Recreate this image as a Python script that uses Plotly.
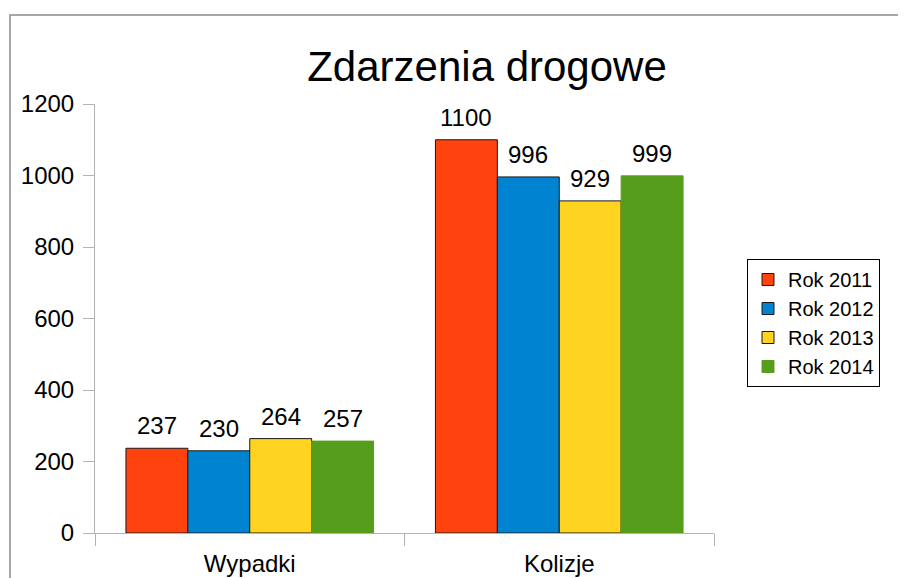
"""Grouped bar chart: road incidents per year (Zdarzenia drogowe)."""

import plotly.graph_objects as go

# Data.
categories = ["Wypadki", "Kolizje"]
years = ["Rok 2011", "Rok 2012", "Rok 2013", "Rok 2014"]
rok_2011 = [237, 1100]
rok_2012 = [230, 996]
rok_2013 = [264, 929]
rok_2014 = [257, 999]
y_ticks = [0, 200, 400, 600, 800, 1000, 1200]

# LibreOffice-style default palette; green has no dark outline.
COLORS = ["#ff420e", "#0084d1", "#ffd320", "#579d1c"]
OUTLINES = ["#1a1a1a", "#1a1a1a", "#1a1a1a", "#579d1c"]

# The page body has an 8px margin, so the figure starts at (8, 8).
# The figure is a little taller than the window; the frame runs off the
# bottom and right edges as in the picture.
OFF = 8
W, H = 906 - OFF, 600 - OFF
L, T = 95 - OFF, 104 - OFF
R, B = W - (714 - OFF), H - (533 - OFF)
BARGAP = 0.2
FONT = "Liberation Sans, Arial, sans-serif"

series = [rok_2011, rok_2012, rok_2013, rok_2014]
plot_w = W - L - R
plot_h = H - T - B


def px_x(x):
    """Reference pixel column -> paper x."""
    return (x - OFF - L) / plot_w


def px_y(y):
    """Reference pixel row -> paper y."""
    return (H - B - (y - OFF)) / plot_h


fig = go.Figure()
for name, vals, col, edge in zip(years, series, COLORS, OUTLINES):
    fig.add_trace(
        go.Bar(
            x=categories,
            y=vals,
            name=name,
            marker=dict(color=col, line=dict(color=edge, width=1)),
            hovertemplate="%{x}: %{y}<extra>" + name + "</extra>",
        )
    )

# Value labels above each bar, shifted sideways to sit over its bar.
bar_px = plot_w / len(categories) * (1 - BARGAP) / len(series)
annotations = []
for i, vals in enumerate(series):
    for cat, v in zip(categories, vals):
        annotations.append(
            dict(
                x=cat, y=v, xref="x", yref="y",
                text=str(v),
                showarrow=False,
                xanchor="center", yanchor="bottom",
                xshift=(i - (len(series) - 1) / 2) * bar_px,
                yshift=7,
                font=dict(size=24, color="#000000", family=FONT),
            )
        )

fig.update_layout(
    width=W,
    height=H,
    margin=dict(l=L, r=R, t=T, b=B, autoexpand=False),
    paper_bgcolor="white",
    plot_bgcolor="white",
    font=dict(family=FONT, color="#000000"),
    barmode="group",
    bargap=BARGAP,
    bargroupgap=0,
    title=dict(
        text="Zdarzenia drogowe",
        font=dict(size=42, family=FONT, color="#000000"),
        x=(487 - OFF) / W, xanchor="center",
        y=1 - (66 - OFF) / H, yanchor="middle",
        yref="container", xref="container",
    ),
    showlegend=True,
    legend=dict(
        x=px_x(747), xanchor="left",
        y=px_y(259), yanchor="top",
        bgcolor="white",
        bordercolor="#000000",
        borderwidth=1,
        font=dict(size=20, family=FONT, color="#000000"),
        traceorder="normal",
    ),
    xaxis=dict(
        showline=True, linecolor="#b3b3b3", linewidth=1,
        ticks="outside", tickson="boundaries", ticklen=12,
        tickcolor="#b3b3b3", tickwidth=1,
        showgrid=False, zeroline=False,
        tickfont=dict(size=24, family=FONT, color="#000000"),
        ticklabelstandoff=9,
    ),
    yaxis=dict(
        range=[0, 1200],
        tickvals=y_ticks,
        showline=True, linecolor="#b3b3b3", linewidth=1,
        ticks="outside", ticklen=11, tickcolor="#b3b3b3", tickwidth=1,
        showgrid=False, zeroline=False,
        tickfont=dict(size=24, family=FONT, color="#000000"),
        ticklabelstandoff=4,
    ),
    annotations=annotations,
    shapes=[
        # Frame of the chart area, cropped at right and bottom in the picture.
        dict(
            type="rect", xref="paper", yref="paper", layer="below",
            x0=px_x(10), x1=px_x(930),
            y0=px_y(620), y1=px_y(15),
            line=dict(color="#8a8a8a", width=1.5),
            fillcolor="rgba(0,0,0,0)",
        )
    ],
)

fig.write_html("out.html")
